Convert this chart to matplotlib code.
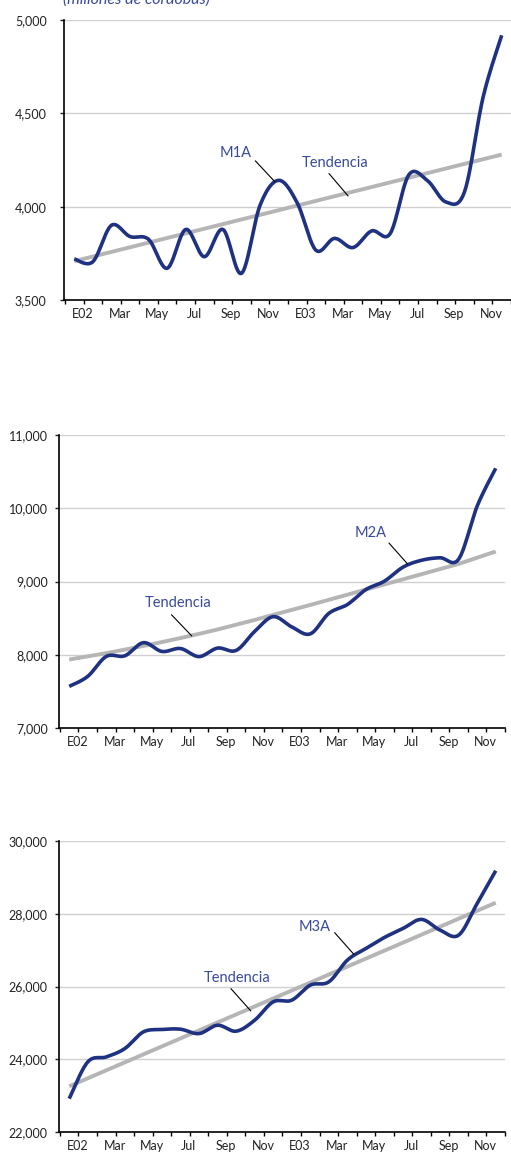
import numpy as np
import matplotlib
matplotlib.use("Agg")
import matplotlib.pyplot as plt
from matplotlib.ticker import FuncFormatter

plt.rcParams['font.family'] = ['Lato', 'DejaVu Sans']

# ---------------- data ----------------
month_labels = ["E02", "Mar", "May", "Jul", "Sep", "Nov",
                "E03", "Mar", "May", "Jul", "Sep", "Nov"]
n_months = 24

m1a = [3720, 3705, 3900, 3840, 3825, 3670, 3878, 3732, 3878, 3643, 4008, 4141,
       4020, 3767, 3830, 3781, 3870, 3856, 4170, 4140, 4025, 4080, 4587, 4918]
m1a_trend = [3708, 4279]          # linear trend, first and last month

m2a = [7568, 7705, 7977, 7986, 8165, 8045, 8085, 7975, 8091, 8059, 8318, 8520,
       8380, 8285, 8565, 8685, 8890, 9005, 9196, 9290, 9324, 9305, 10030, 10545]
m2a_trend = [7935, 7978, 8022, 8070, 8120, 8173, 8228, 8285, 8345, 8410, 8475, 8545,
             8612, 8680, 8750, 8820, 8890, 8960, 9030, 9100, 9170, 9240, 9325, 9410]

m3a = [22917, 23927, 24064, 24294, 24752, 24817, 24826, 24706, 24936, 24771, 25073, 25578,
       25624, 26037, 26128, 26725, 27046, 27349, 27596, 27844, 27550, 27413, 28284, 29183]
m3a_trend = [23257, 28303]

title_text = "(millones de córdobas)"

NAVY = "#1f3282"
TXT_BLUE = "#3a4a9c"
GRAY = "#b5b5b5"
GRID = "#d0d0d0"


def smooth(xs, ys, n=24):
    pts = np.column_stack([np.asarray(xs, float), np.asarray(ys, float)])
    out = []
    N = len(pts)
    t = np.linspace(0, 1, n)[:, None]
    for i in range(N - 1):
        p0 = pts[max(i - 1, 0)]
        p1 = pts[i]
        p2 = pts[i + 1]
        p3 = pts[min(i + 2, N - 1)]
        c1 = p1 + (p2 - p0) / 6.0
        c2 = p2 - (p3 - p1) / 6.0
        b = ((1 - t) ** 3) * p1 + 3 * ((1 - t) ** 2) * t * c1 + 3 * (1 - t) * t ** 2 * c2 + t ** 3 * p2
        out.append(b if i == 0 else b[1:])
    out = np.vstack(out)
    return out[:, 0], out[:, 1]


fig = plt.figure(figsize=(5.11, 11.54), dpi=100)
W, H = 511.0, 1154.0


def make_ax(left, right, top, bottom):
    return fig.add_axes([left / W, 1 - bottom / H, (right - left) / W, (bottom - top) / H])


def style(ax, ylo, yhi, ystep, ypad):
    ax.set_xlim(-0.55, 23.45)
    ax.set_ylim(ylo, yhi)
    yt = np.arange(ylo, yhi + 1, ystep)
    ax.set_yticks(yt)
    ax.yaxis.set_major_formatter(FuncFormatter(lambda v, p: f"{int(v):,}"))
    for v in yt[1:]:
        ax.axhline(v, color=GRID, lw=1.0, zorder=0)
    for s in ["top", "right"]:
        ax.spines[s].set_visible(False)
    for s in ["left", "bottom"]:
        ax.spines[s].set_color("black")
        ax.spines[s].set_linewidth(1.2)
    ax.tick_params(axis="y", length=3, width=1, pad=ypad, labelsize=9, colors="#222222")
    # month boundary ticks
    ax.set_xticks(np.arange(-0.5, 23.6, 1.0))
    ax.set_xticklabels([])
    ax.tick_params(axis="x", which="major", length=3, width=1, colors="black")
    ax.set_xticks(np.arange(0, n_months, 2) + 0.45, minor=True)
    ax.set_xticklabels(month_labels, minor=True)
    ax.tick_params(axis="x", which="minor", length=0, pad=6, labelsize=9, labelcolor="#222222")


def draw(ax, series, trend):
    x = np.arange(n_months)
    if len(trend) == 2:
        ax.plot([x[0], x[-1]], trend, color=GRAY, lw=2.8, solid_capstyle="butt", zorder=2)
    else:
        ax.plot(x, trend, color=GRAY, lw=2.8, solid_capstyle="butt", zorder=2)
    sx, sy = smooth(x, series)
    ax.plot(sx, sy, color=NAVY, lw=2.6, solid_capstyle="butt", zorder=3)


def label(ax, text, tx, ty, x0, y0, x1, y1):
    ax.text(tx, ty, text, ha="center", va="center", fontsize=10.5, color=TXT_BLUE, zorder=5)
    ax.plot([x0, x1], [y0, y1], color="black", lw=0.8, zorder=4)


# Panel 1
ax1 = make_ax(64, 511, 20, 300)
style(ax1, 3500, 5000, 500, 9.5)
draw(ax1, m1a, m1a_trend)
label(ax1, "M1A", 8.71, 4289, 9.75, 4245, 10.77, 4136)
label(ax1, "Tendencia", 14.02, 4234, 13.71, 4177, 14.73, 4058)

# Panel 2
ax2 = make_ax(59, 505, 435, 728)
style(ax2, 7000, 11000, 1000, 5)
draw(ax2, m2a, m2a_trend)
label(ax2, "M2A", 16.26, 9659, 17.25, 9523, 18.24, 9241)
label(ax2, "Tendencia", 5.88, 8705, 5.52, 8545, 6.6, 8259)

# Panel 3
ax3 = make_ax(59, 505, 841, 1132)
style(ax3, 22000, 30000, 2000, 5)
draw(ax3, m3a, m3a_trend)
label(ax3, "M3A", 13.25, 27642, 14.32, 27477, 15.34, 26890)
label(ax3, "Tendencia", 9.07, 26239, 8.73, 25936, 9.79, 25330)

fig.text(63 / W, 1 - 4 / H, title_text, ha="left", va="baseline", fontsize=11.5,
         style="italic", color=TXT_BLUE)

fig.savefig("out.png", dpi=100)
